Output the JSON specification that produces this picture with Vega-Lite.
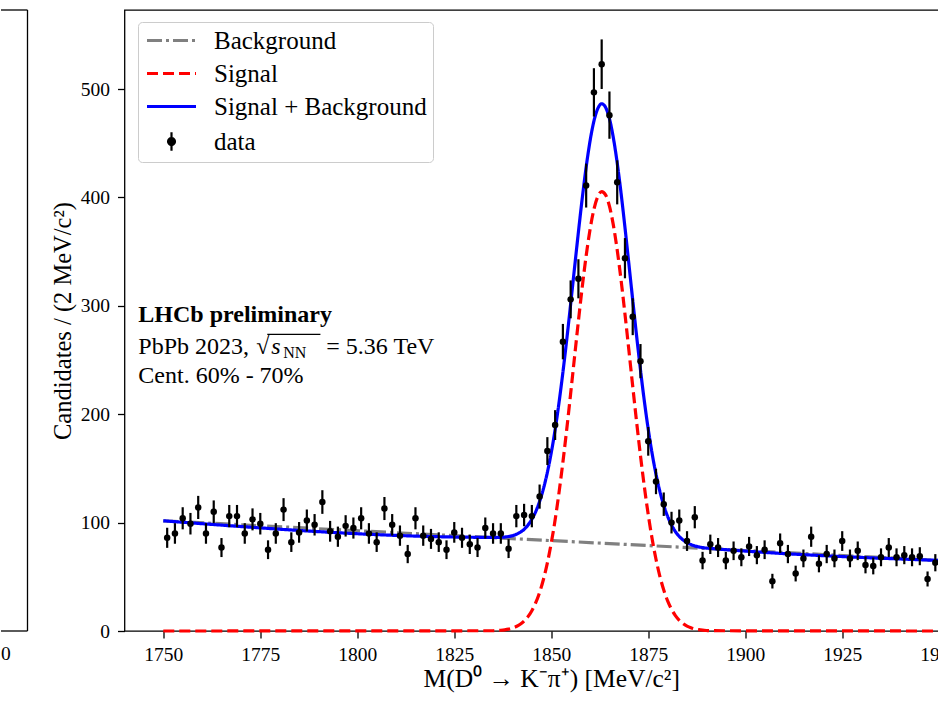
{
"$schema": "https://vega.github.io/schema/vega-lite/v6.json",
"padding": {"left": 0, "top": 9, "right": 0, "bottom": 0},
"autosize": {"type": "pad"},
"spacing": 20.5,
"datasets": {
"points": [{"m":1751,"n":86,"err":9.27},{"m":1753,"n":90,"err":9.49},{"m":1755,"n":104,"err":10.2},{"m":1757,"n":99,"err":9.95},{"m":1759,"n":114,"err":10.68},{"m":1761,"n":90,"err":9.49},{"m":1763,"n":110,"err":10.49},{"m":1765,"n":77,"err":8.77},{"m":1767,"n":106,"err":10.3},{"m":1769,"n":106,"err":10.3},{"m":1771,"n":90,"err":9.49},{"m":1773,"n":103,"err":10.15},{"m":1775,"n":99,"err":9.95},{"m":1777,"n":75,"err":8.66},{"m":1779,"n":90,"err":9.49},{"m":1781,"n":112,"err":10.58},{"m":1783,"n":82,"err":9.06},{"m":1785,"n":91,"err":9.54},{"m":1787,"n":102,"err":10.1},{"m":1789,"n":98,"err":9.9},{"m":1791,"n":119,"err":10.91},{"m":1793,"n":92,"err":9.59},{"m":1795,"n":87,"err":9.33},{"m":1797,"n":97,"err":9.85},{"m":1799,"n":95,"err":9.75},{"m":1801,"n":104,"err":10.2},{"m":1803,"n":90,"err":9.49},{"m":1805,"n":82,"err":9.06},{"m":1807,"n":113,"err":10.63},{"m":1809,"n":98,"err":9.9},{"m":1811,"n":88,"err":9.38},{"m":1813,"n":71,"err":8.43},{"m":1815,"n":104,"err":10.2},{"m":1817,"n":88,"err":9.38},{"m":1819,"n":85,"err":9.22},{"m":1821,"n":82,"err":9.06},{"m":1823,"n":75,"err":8.66},{"m":1825,"n":91,"err":9.54},{"m":1827,"n":86,"err":9.27},{"m":1829,"n":80,"err":8.94},{"m":1831,"n":77,"err":8.77},{"m":1833,"n":95,"err":9.75},{"m":1835,"n":90,"err":9.49},{"m":1837,"n":90,"err":9.49},{"m":1839,"n":76,"err":8.72},{"m":1841,"n":106,"err":10.3},{"m":1843,"n":107,"err":10.34},{"m":1845,"n":106,"err":10.3},{"m":1847,"n":124,"err":11.14},{"m":1849,"n":166,"err":12.88},{"m":1851,"n":190,"err":13.78},{"m":1853,"n":267,"err":16.34},{"m":1855,"n":306,"err":17.49},{"m":1857,"n":325,"err":18.03},{"m":1859,"n":411,"err":20.27},{"m":1861,"n":497,"err":22.29},{"m":1863,"n":523,"err":22.87},{"m":1865,"n":476,"err":21.82},{"m":1867,"n":414,"err":20.35},{"m":1869,"n":344,"err":18.55},{"m":1871,"n":290,"err":17.03},{"m":1873,"n":249,"err":15.78},{"m":1875,"n":175,"err":13.23},{"m":1877,"n":138,"err":11.75},{"m":1879,"n":117,"err":10.82},{"m":1881,"n":100,"err":10},{"m":1883,"n":102,"err":10.1},{"m":1885,"n":83,"err":9.11},{"m":1887,"n":105,"err":10.25},{"m":1889,"n":65,"err":8.06},{"m":1891,"n":80,"err":8.94},{"m":1893,"n":77,"err":8.77},{"m":1895,"n":65,"err":8.06},{"m":1897,"n":74,"err":8.6},{"m":1899,"n":68,"err":8.25},{"m":1901,"n":78,"err":8.83},{"m":1903,"n":70,"err":8.37},{"m":1905,"n":75,"err":8.66},{"m":1907,"n":46,"err":6.78},{"m":1909,"n":81,"err":9},{"m":1911,"n":71,"err":8.43},{"m":1913,"n":53,"err":7.28},{"m":1915,"n":67,"err":8.19},{"m":1917,"n":87,"err":9.33},{"m":1919,"n":62,"err":7.87},{"m":1921,"n":71,"err":8.43},{"m":1923,"n":67,"err":8.19},{"m":1925,"n":83,"err":9.11},{"m":1927,"n":67,"err":8.19},{"m":1929,"n":74,"err":8.6},{"m":1931,"n":61,"err":7.81},{"m":1933,"n":60,"err":7.75},{"m":1935,"n":68,"err":8.25},{"m":1937,"n":77,"err":8.77},{"m":1939,"n":68,"err":8.25},{"m":1941,"n":70,"err":8.37},{"m":1943,"n":68,"err":8.25},{"m":1945,"n":69,"err":8.31},{"m":1947,"n":48,"err":6.93},{"m":1949,"n":63,"err":7.94}],
"curves": [
{"comp":"Background","m":1750,"v":101.7},{"comp":"Background","m":1950,"v":65.1},
{"comp":"Signal","m":1750,"v":0},{"comp":"Signal","m":1835,"v":0.25},{"comp":"Signal","m":1836,"v":0.41},{"comp":"Signal","m":1837,"v":0.68},{"comp":"Signal","m":1838,"v":1.1},{"comp":"Signal","m":1839,"v":1.74},{"comp":"Signal","m":1840,"v":2.71},{"comp":"Signal","m":1841,"v":4.15},{"comp":"Signal","m":1842,"v":6.22},{"comp":"Signal","m":1843,"v":9.16},{"comp":"Signal","m":1844,"v":13.23},{"comp":"Signal","m":1845,"v":18.75},{"comp":"Signal","m":1846,"v":26.08},{"comp":"Signal","m":1847,"v":35.63},{"comp":"Signal","m":1848,"v":47.75},{"comp":"Signal","m":1849,"v":62.81},{"comp":"Signal","m":1850,"v":81.06},{"comp":"Signal","m":1851,"v":102.6},{"comp":"Signal","m":1852,"v":127.7},{"comp":"Signal","m":1853,"v":155.7},{"comp":"Signal","m":1854,"v":186.4},{"comp":"Signal","m":1855,"v":219.1},{"comp":"Signal","m":1856,"v":252.7},{"comp":"Signal","m":1857,"v":286.0},{"comp":"Signal","m":1858,"v":317.7},{"comp":"Signal","m":1859,"v":346.3},{"comp":"Signal","m":1860,"v":370.5},{"comp":"Signal","m":1861,"v":389.1},{"comp":"Signal","m":1862,"v":400.9},{"comp":"Signal","m":1863,"v":405.5},{"comp":"Signal","m":1864,"v":402.4},{"comp":"Signal","m":1865,"v":392.0},{"comp":"Signal","m":1866,"v":374.7},{"comp":"Signal","m":1867,"v":351.6},{"comp":"Signal","m":1868,"v":323.7},{"comp":"Signal","m":1869,"v":292.5},{"comp":"Signal","m":1870,"v":259.4},{"comp":"Signal","m":1871,"v":225.8},{"comp":"Signal","m":1872,"v":192.9},{"comp":"Signal","m":1873,"v":161.7},{"comp":"Signal","m":1874,"v":133.0},{"comp":"Signal","m":1875,"v":107.4},{"comp":"Signal","m":1876,"v":85.1},{"comp":"Signal","m":1877,"v":66.2},{"comp":"Signal","m":1878,"v":50.5},{"comp":"Signal","m":1879,"v":37.8},{"comp":"Signal","m":1880,"v":27.8},{"comp":"Signal","m":1881,"v":20.1},{"comp":"Signal","m":1882,"v":14.2},{"comp":"Signal","m":1883,"v":9.9},{"comp":"Signal","m":1884,"v":6.7},{"comp":"Signal","m":1885,"v":4.5},{"comp":"Signal","m":1886,"v":3.0},{"comp":"Signal","m":1887,"v":1.9},{"comp":"Signal","m":1888,"v":1.2},{"comp":"Signal","m":1889,"v":0.75},{"comp":"Signal","m":1890,"v":0.46},{"comp":"Signal","m":1891,"v":0.27},{"comp":"Signal","m":1950,"v":0},
{"comp":"Signal + Background","m":1750,"v":101.7},{"comp":"Signal + Background","m":1835,"v":86.4},{"comp":"Signal + Background","m":1836,"v":86.4},{"comp":"Signal + Background","m":1837,"v":86.5},{"comp":"Signal + Background","m":1838,"v":86.7},{"comp":"Signal + Background","m":1839,"v":87.2},{"comp":"Signal + Background","m":1840,"v":87.9},{"comp":"Signal + Background","m":1841,"v":89.2},{"comp":"Signal + Background","m":1842,"v":91.1},{"comp":"Signal + Background","m":1843,"v":93.8},{"comp":"Signal + Background","m":1844,"v":97.7},{"comp":"Signal + Background","m":1845,"v":103.1},{"comp":"Signal + Background","m":1846,"v":110.2},{"comp":"Signal + Background","m":1847,"v":119.6},{"comp":"Signal + Background","m":1848,"v":131.5},{"comp":"Signal + Background","m":1849,"v":146.4},{"comp":"Signal + Background","m":1850,"v":164.5},{"comp":"Signal + Background","m":1851,"v":185.8},{"comp":"Signal + Background","m":1852,"v":210.7},{"comp":"Signal + Background","m":1853,"v":238.6},{"comp":"Signal + Background","m":1854,"v":269.1},{"comp":"Signal + Background","m":1855,"v":301.6},{"comp":"Signal + Background","m":1856,"v":335.0},{"comp":"Signal + Background","m":1857,"v":368.1},{"comp":"Signal + Background","m":1858,"v":399.6},{"comp":"Signal + Background","m":1859,"v":428.1},{"comp":"Signal + Background","m":1860,"v":452.1},{"comp":"Signal + Background","m":1861,"v":470.5},{"comp":"Signal + Background","m":1862,"v":482.1},{"comp":"Signal + Background","m":1863,"v":486.5},{"comp":"Signal + Background","m":1864,"v":483.2},{"comp":"Signal + Background","m":1865,"v":472.7},{"comp":"Signal + Background","m":1866,"v":455.2},{"comp":"Signal + Background","m":1867,"v":431.9},{"comp":"Signal + Background","m":1868,"v":403.8},{"comp":"Signal + Background","m":1869,"v":372.4},{"comp":"Signal + Background","m":1870,"v":339.1},{"comp":"Signal + Background","m":1871,"v":305.4},{"comp":"Signal + Background","m":1872,"v":272.3},{"comp":"Signal + Background","m":1873,"v":240.9},{"comp":"Signal + Background","m":1874,"v":212.0},{"comp":"Signal + Background","m":1875,"v":186.2},{"comp":"Signal + Background","m":1876,"v":163.8},{"comp":"Signal + Background","m":1877,"v":144.6},{"comp":"Signal + Background","m":1878,"v":128.8},{"comp":"Signal + Background","m":1879,"v":115.9},{"comp":"Signal + Background","m":1880,"v":105.7},{"comp":"Signal + Background","m":1881,"v":97.8},{"comp":"Signal + Background","m":1882,"v":91.7},{"comp":"Signal + Background","m":1883,"v":87.2},{"comp":"Signal + Background","m":1884,"v":83.9},{"comp":"Signal + Background","m":1885,"v":81.5},{"comp":"Signal + Background","m":1886,"v":79.8},{"comp":"Signal + Background","m":1887,"v":78.5},{"comp":"Signal + Background","m":1888,"v":77.6},{"comp":"Signal + Background","m":1889,"v":77.0},{"comp":"Signal + Background","m":1890,"v":76.5},{"comp":"Signal + Background","m":1891,"v":76.2},{"comp":"Signal + Background","m":1950,"v":65.1}
]
},
"hconcat": [
{
"width": 26.5, "height": 621,
"view": {"stroke": null},
"data": {"values": [{"k": 1}]},
"layer": [
{"mark": {"type": "rule", "color": "black", "strokeWidth": 1.3}, "encoding": {"y": {"datum": 0, "type": "quantitative", "scale": {"domain": [0, 1], "nice": false}, "axis": null}}},
{"mark": {"type": "rule", "color": "black", "strokeWidth": 1.3}, "encoding": {"y": {"datum": 1, "type": "quantitative"}}},
{"mark": {"type": "rule", "color": "black", "strokeWidth": 1.3}, "encoding": {"x": {"datum": 1, "type": "quantitative", "scale": {"domain": [0, 1], "nice": false}, "axis": null}}},
{"mark": {"type": "text", "font": "Liberation Serif", "fontSize": 19.5, "align": "left", "baseline": "alphabetic", "text": "0"}, "encoding": {"x": {"datum": 0, "type": "quantitative"}, "y": {"datum": -0.047, "type": "quantitative"}}}
]
},
{
"width": 853.5, "height": 621,
"layer": [
{"data": {"name": "curves"},
 "mark": {"type": "line", "strokeWidth": 3.2, "interpolate": "monotone"},
 "encoding": {
  "x": {"field": "m", "type": "quantitative", "scale": {"domain": [1740, 1960], "nice": false, "zero": false},
        "axis": {"values": [1750,1775,1800,1825,1850,1875,1900,1925,1950], "format": "d", "title": "M(D⁰ → K⁻π⁺) [MeV/c²]", "titleFontSize": 25.5, "labelPadding": 7.5, "titlePadding": 2}},
  "y": {"field": "v", "type": "quantitative", "scale": {"domain": [0, 573], "nice": false},
        "axis": {"values": [0,100,200,300,400,500], "format": "d", "title": "Candidates / (2 MeV/c²)", "titleFontSize": 24.5, "labelPadding": 8, "titlePadding": 5}},
  "color": {"field": "comp", "type": "nominal",
    "scale": {"domain": ["Background", "Signal", "Signal + Background", "data"], "range": ["#808080", "#ff0000", "#0000ff", "#000000"]},
    "legend": {"title": null, "orient": "none", "legendX": 137, "legendY": 12, "labelFont": "Liberation Serif", "labelFontSize": 25, "labelColor": "black", "labelLimit": 500,
      "symbolType": "stroke", "symbolSize": 2401, "symbolStrokeWidth": 3.2, "symbolOpacity": 1, "symbolOffset": 15,
      "fillColor": "rgba(255,255,255,0.8)", "strokeColor": "#cccccc", "cornerRadius": 4, "padding": 6, "rowPadding": 7, "labelOffset": 30,
      "encode": {"symbols": {"update": {
        "shape": {"signal": "datum.label === 'data' ? 'M0,-0.38L0,0.38M-0.14,0A0.14,0.14 0 1,1 0.14,0A0.14,0.14 0 1,1 -0.14,0Z' : 'stroke'"},
        "stroke": {"signal": "datum.label === 'Background' ? '#808080' : datum.label === 'Signal' ? '#ff0000' : datum.label === 'data' ? '#000000' : '#0000ff'"},
        "fill": {"signal": "datum.label === 'data' ? '#000000' : 'transparent'"},
        "strokeDash": {"signal": "datum.label === 'Background' ? [15,4,3,4] : datum.label === 'Signal' ? [11,5] : [1,0]"},
        "strokeWidth": {"signal": "datum.label === 'data' ? 2.2 : 3.2"},
        "opacity": {"value": 1}
      }}}}},
  "strokeDash": {"field": "comp", "type": "nominal", "scale": {"domain": ["Background", "Signal", "Signal + Background"], "range": [[15,4,3,4],[11,5],[1,0]]}, "legend": null}
 }},
{"data": {"name": "points"},
 "mark": {"type": "errorbar", "color": "black", "thickness": 2.2},
 "encoding": {"x": {"field": "m", "type": "quantitative"}, "y": {"field": "n", "type": "quantitative", "title": "Candidates / (2 MeV/c²)"}, "yError": {"field": "err"}}},
{"data": {"name": "points"},
 "mark": {"type": "point", "filled": true, "size": 42, "opacity": 1},
 "encoding": {"x": {"field": "m", "type": "quantitative"}, "y": {"field": "n", "type": "quantitative", "title": "Candidates / (2 MeV/c²)"}, "color": {"datum": "data", "type": "nominal"}}},
{"data": {"values": [{"t": "LHCb preliminary"}]},
 "mark": {"type": "text", "font": "Liberation Serif", "fontSize": 24, "fontWeight": "bold", "align": "left", "baseline": "alphabetic", "color": "black"},
 "encoding": {"x": {"datum": 1743.56, "type": "quantitative"}, "y": {"datum": 285.3, "type": "quantitative"}, "text": {"field": "t"}}},
{"data": {"values": [{"t": "PbPb 2023,"}]},
 "mark": {"type": "text", "font": "Liberation Serif", "fontSize": 24, "align": "left", "baseline": "alphabetic", "color": "black"},
 "encoding": {"x": {"datum": 1743.56, "type": "quantitative"}, "y": {"datum": 255.8, "type": "quantitative"}, "text": {"field": "t"}}},
{"data": {"values": [{"t": "√"}]},
 "mark": {"type": "text", "font": "Liberation Serif", "fontSize": 24, "align": "left", "baseline": "alphabetic", "color": "black"},
 "encoding": {"x": {"datum": 1773.97, "type": "quantitative"}, "y": {"datum": 255.8, "type": "quantitative"}, "text": {"field": "t"}}},
{"data": {"values": [{"t": "s"}]},
 "mark": {"type": "text", "font": "Liberation Serif", "fontSize": 24, "fontStyle": "italic", "align": "left", "baseline": "alphabetic", "color": "black"},
 "encoding": {"x": {"datum": 1777.84, "type": "quantitative"}, "y": {"datum": 255.8, "type": "quantitative"}, "text": {"field": "t"}}},
{"data": {"values": [{"t": "NN"}]},
 "mark": {"type": "text", "font": "Liberation Serif", "fontSize": 16, "align": "left", "baseline": "alphabetic", "color": "black"},
 "encoding": {"x": {"datum": 1780.93, "type": "quantitative"}, "y": {"datum": 251.5, "type": "quantitative"}, "text": {"field": "t"}}},
{"data": {"values": [{"t": "= 5.36 TeV"}]},
 "mark": {"type": "text", "font": "Liberation Serif", "fontSize": 24, "align": "left", "baseline": "alphabetic", "color": "black"},
 "encoding": {"x": {"datum": 1792.02, "type": "quantitative"}, "y": {"datum": 255.8, "type": "quantitative"}, "text": {"field": "t"}}},
{"data": {"values": [{"t": "vinculum"}]},
 "mark": {"type": "rule", "color": "black", "strokeWidth": 1.2},
 "encoding": {"x": {"datum": 1776.8, "type": "quantitative"}, "x2": {"datum": 1790.5}, "y": {"datum": 273.7, "type": "quantitative"}}},
{"data": {"values": [{"t": "Cent. 60% - 70%"}]},
 "mark": {"type": "text", "font": "Liberation Serif", "fontSize": 24, "align": "left", "baseline": "alphabetic", "color": "black"},
 "encoding": {"x": {"datum": 1743.56, "type": "quantitative"}, "y": {"datum": 229.1, "type": "quantitative"}, "text": {"field": "t"}}}
]
}
],
"config": {
 "font": "Liberation Serif",
 "view": {"stroke": "black", "strokeWidth": 1.3},
 "axis": {"grid": false, "domain": false, "labelFont": "Liberation Serif", "labelFontSize": 19.5, "labelColor": "black",
   "titleFont": "Liberation Serif", "titleFontSize": 24, "titleFontWeight": "normal", "titleColor": "black",
   "tickColor": "black", "tickWidth": 1.3, "tickSize": 7}
}
}
